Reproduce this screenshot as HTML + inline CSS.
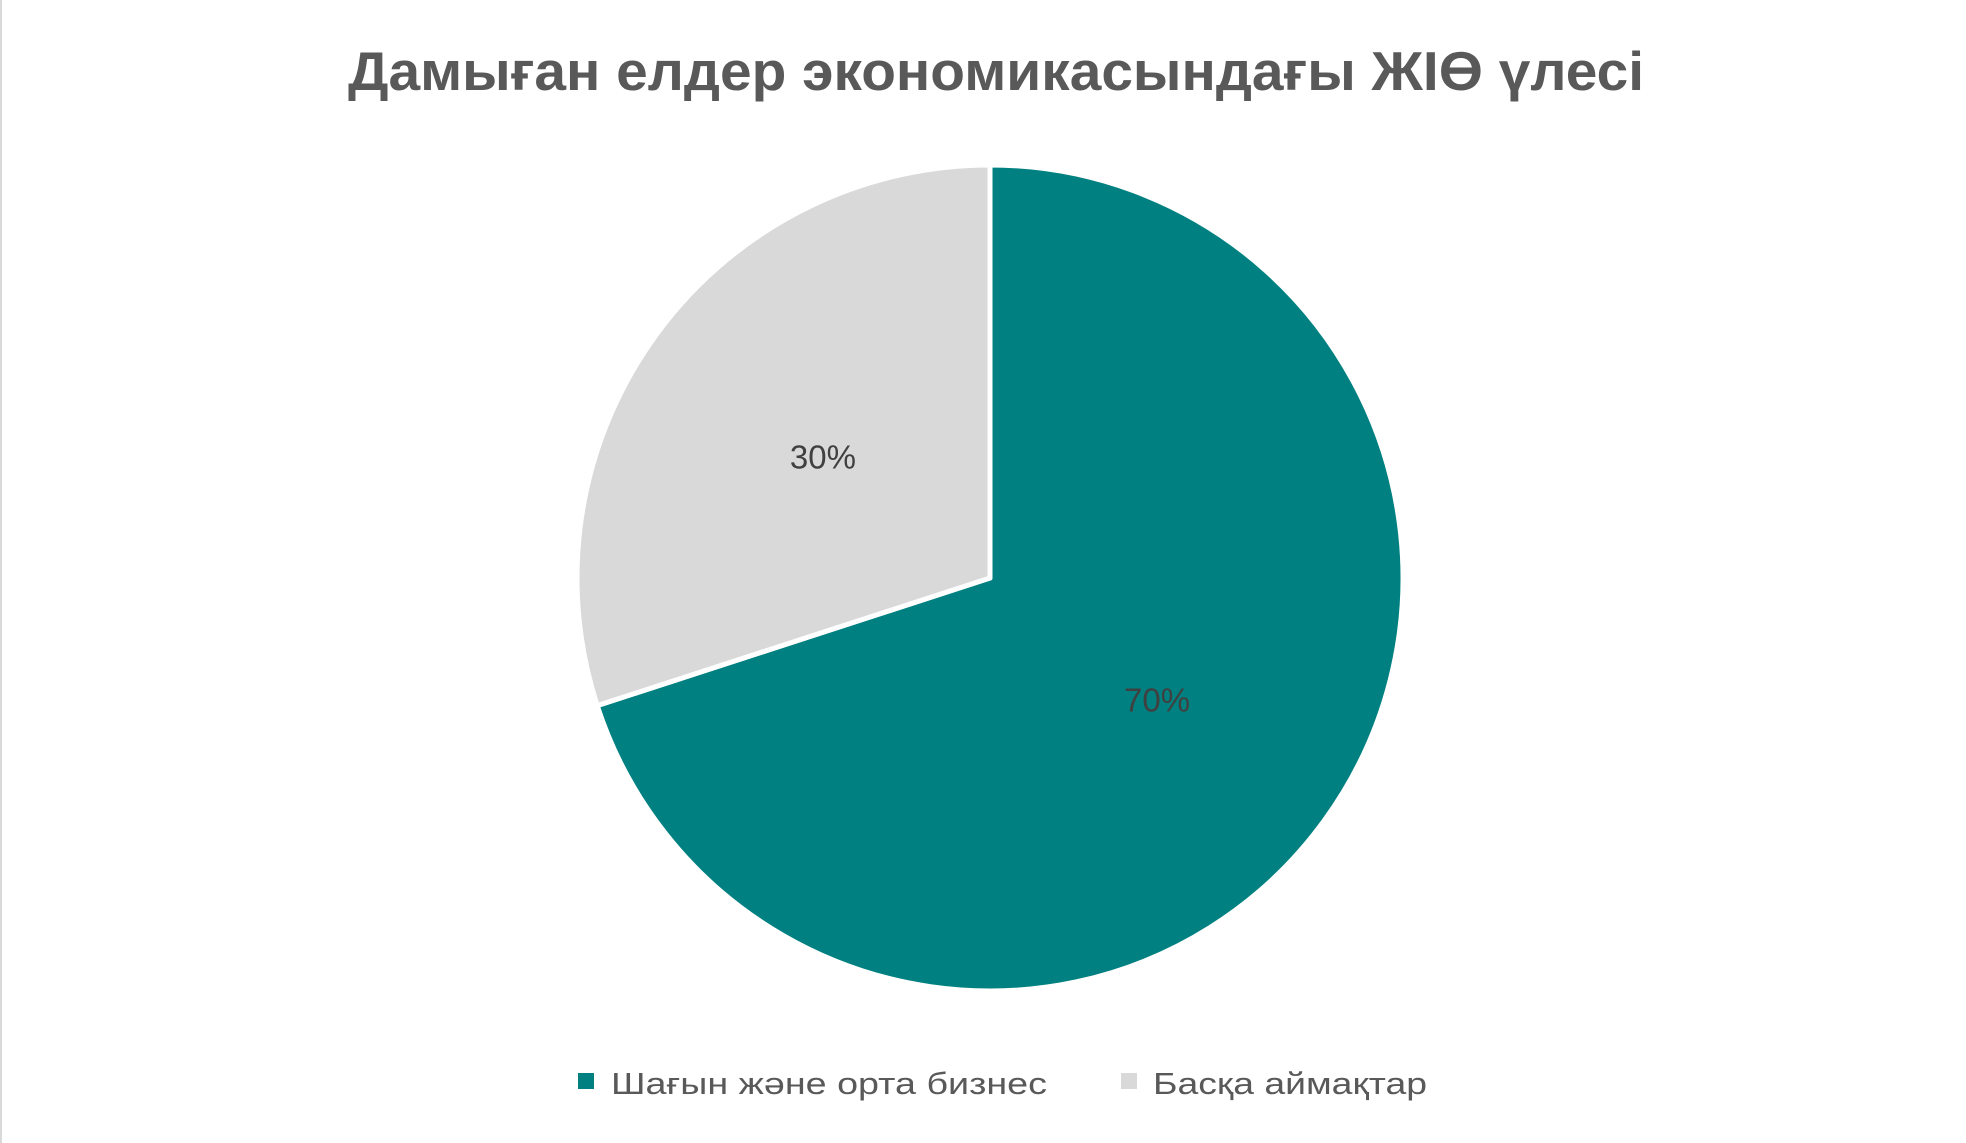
<!DOCTYPE html>
<html><head><meta charset="utf-8"><style>
html,body{margin:0;padding:0;background:#fff;}
svg{display:block;}
</style></head><body>
<svg id="chart" width="1966" height="1143" viewBox="0 0 1966 1143" xmlns="http://www.w3.org/2000/svg" font-family="'Liberation Sans', 'DejaVu Sans', sans-serif">
<rect x="0" y="0" width="1966" height="1143" fill="#fff"/>
<rect x="0" y="0" width="2" height="1143" fill="#d9d9d9"/>
<text x="996" y="90" text-anchor="middle" font-size="55" font-weight="bold" fill="#595959" textLength="1296" lengthAdjust="spacingAndGlyphs">Дамыған елдер экономикасындағы ЖІӨ үлесі</text>
<g id="slices"></g>
<g id="labels"></g>
<g>
<g>
<rect x="578" y="1073" width="16" height="16" fill="#008080"/>
<text x="611" y="1094" font-size="31" fill="#595959" textLength="436" lengthAdjust="spacingAndGlyphs">Шағын және орта бизнес</text>
</g>
<g>
<rect x="1121" y="1073" width="16" height="16" fill="#d9d9d9"/>
<text x="1153" y="1094" font-size="31" fill="#595959" textLength="274" lengthAdjust="spacingAndGlyphs">Басқа аймақтар</text>
</g>
</g>
</svg>
<script>
const categories = ["Шағын және орта бизнес", "Басқа аймақтар"];
const values = [70, 30];
const valueLabels = ["70%", "30%"];
const colors = ["#008080", "#d9d9d9"];
const cx = 990, cy = 578, r = 413;
const NS = "http://www.w3.org/2000/svg";
const total = values.reduce((a, b) => a + b, 0);
const gS = document.getElementById('slices');
const gL = document.getElementById('labels');
function pt(angle, rad) { return [cx + rad * Math.sin(angle), cy - rad * Math.cos(angle)]; }
let start = 0;
values.forEach((v, i) => {
  const sweep = v / total * Math.PI * 2;
  const end = start + sweep;
  const [x1, y1] = pt(start, r), [x2, y2] = pt(end, r);
  const large = sweep > Math.PI ? 1 : 0;
  const p = document.createElementNS(NS, 'path');
  p.setAttribute('d', `M${cx},${cy} L${x1},${y1} A${r},${r} 0 ${large} 1 ${x2},${y2} Z`);
  p.setAttribute('fill', colors[i]);
  p.setAttribute('stroke', '#fff');
  p.setAttribute('stroke-width', '5');
  p.setAttribute('stroke-linejoin', 'round');
  
  
  gS.appendChild(p);
  const mid = start + sweep / 2;
  const [lx, ly] = pt(mid, r * 0.5);
  const t = document.createElementNS(NS, 'text');
  t.setAttribute('x', lx);
  t.setAttribute('y', ly + 12);
  t.setAttribute('text-anchor', 'middle');
  t.setAttribute('font-size', '33');
  t.setAttribute('fill', '#404040');
  t.textContent = valueLabels[i];
  
  
  gL.appendChild(t);
  start = end;
});
</script>
</body></html>
